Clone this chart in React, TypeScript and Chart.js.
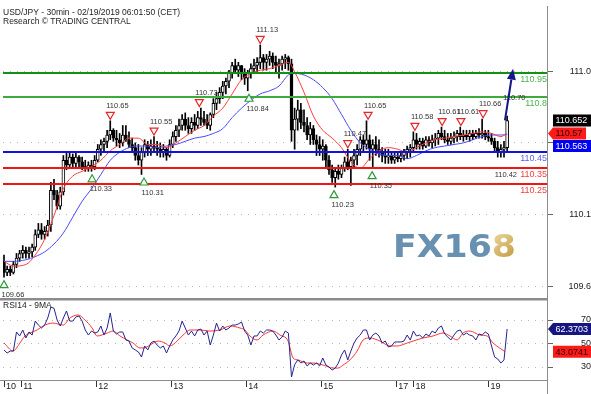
import React, { useEffect, useRef } from 'react';
import { Chart, registerables } from 'chart.js';

Chart.register(...registerables);

const SANS = '"Liberation Sans", Arial, sans-serif';

// ---------- price candles (1 bar per hour) ----------
const opens = [
  109.76, 109.69, 109.71, 109.69, 109.74, 109.78, 109.81, 109.83, 109.81, 109.82,
  109.85, 109.93, 109.96, 109.93, 109.95, 109.99, 110.21, 110.18, 110.11, 110.20,
  110.40, 110.37, 110.42, 110.38, 110.42, 110.39, 110.36, 110.35, 110.37, 110.36,
  110.40, 110.47, 110.50, 110.52, 110.56, 110.59, 110.54, 110.53, 110.51, 110.56,
  110.53, 110.50, 110.48, 110.43, 110.40, 110.45, 110.50, 110.47, 110.49, 110.48,
  110.47, 110.45, 110.47, 110.43, 110.50, 110.55, 110.59, 110.62, 110.66, 110.62,
  110.60, 110.64, 110.62, 110.67, 110.66, 110.64, 110.62, 110.69, 110.76, 110.79,
  110.83, 110.87, 110.90, 110.95, 111.00, 110.97, 111.00, 110.95, 110.92, 110.95,
  110.98, 111.00, 111.02, 111.05, 111.02, 111.04, 111.06, 111.02, 111.00, 111.01,
  111.04, 111.05, 111.01, 110.59, 110.66, 110.72, 110.64, 110.62, 110.56, 110.60,
  110.53, 110.50, 110.47, 110.49, 110.40, 110.34, 110.29, 110.33, 110.31, 110.35,
  110.39, 110.36, 110.40, 110.43, 110.47, 110.53, 110.50, 110.53, 110.47, 110.50,
  110.47, 110.45, 110.43, 110.42, 110.43, 110.40, 110.42, 110.41, 110.43, 110.45,
  110.47, 110.48, 110.53, 110.50, 110.52, 110.49, 110.53, 110.51, 110.53, 110.54,
  110.57, 110.55, 110.53, 110.52, 110.54, 110.55, 110.57, 110.55, 110.56, 110.55,
  110.57, 110.55, 110.57, 110.56, 110.57, 110.55, 110.54, 110.52, 110.48, 110.45,
  110.47, 110.48,
];
const highs = [
  109.80, 109.73, 109.73, 109.76, 109.81, 109.83, 109.86, 109.85, 109.85, 109.87,
  109.96, 110.00, 110.00, 109.98, 110.02, 110.26, 110.28, 110.21, 110.23, 110.43,
  110.45, 110.45, 110.44, 110.45, 110.43, 110.42, 110.40, 110.39, 110.40, 110.43,
  110.50, 110.53, 110.54, 110.59, 110.65, 110.60, 110.59, 110.57, 110.62, 110.62,
  110.58, 110.54, 110.51, 110.50, 110.48, 110.53, 110.52, 110.53, 110.55, 110.52,
  110.51, 110.50, 110.48, 110.53, 110.58, 110.62, 110.66, 110.69, 110.70, 110.67,
  110.67, 110.69, 110.71, 110.73, 110.71, 110.69, 110.70, 110.79, 110.83, 110.86,
  110.90, 110.92, 110.97, 111.02, 111.04, 111.02, 111.00, 110.98, 110.97, 111.01,
  111.04, 111.05, 111.13, 111.07, 111.07, 111.09, 111.08, 111.06, 111.04, 111.06,
  111.07, 111.06, 111.04, 110.73, 110.78, 110.76, 110.72, 110.67, 110.64, 110.62,
  110.56, 110.55, 110.53, 110.50, 110.43, 110.37, 110.35, 110.37, 110.37, 110.42,
  110.47, 110.42, 110.47, 110.50, 110.55, 110.56, 110.65, 110.56, 110.53, 110.55,
  110.53, 110.48, 110.47, 110.47, 110.45, 110.45, 110.45, 110.45, 110.47, 110.49,
  110.50, 110.58, 110.57, 110.54, 110.54, 110.55, 110.55, 110.56, 110.57, 110.59,
  110.61, 110.59, 110.57, 110.57, 110.58, 110.59, 110.61, 110.59, 110.59, 110.59,
  110.59, 110.59, 110.60, 110.66, 110.59, 110.59, 110.57, 110.54, 110.52, 110.50,
  110.52, 110.68,
];
const lows = [
  109.66, 109.67, 109.67, 109.68, 109.72, 109.76, 109.78, 109.78, 109.78, 109.79,
  109.83, 109.91, 109.90, 109.90, 109.92, 109.95, 110.15, 110.09, 110.09, 110.18,
  110.34, 110.35, 110.35, 110.36, 110.35, 110.34, 110.33, 110.33, 110.33, 110.34,
  110.39, 110.43, 110.45, 110.48, 110.53, 110.52, 110.49, 110.48, 110.49, 110.52,
  110.48, 110.45, 110.40, 110.37, 110.31, 110.42, 110.43, 110.43, 110.45, 110.43,
  110.42, 110.42, 110.40, 110.42, 110.48, 110.52, 110.55, 110.59, 110.59, 110.57,
  110.57, 110.59, 110.60, 110.62, 110.62, 110.60, 110.59, 110.67, 110.72, 110.76,
  110.79, 110.82, 110.86, 110.92, 110.95, 110.93, 110.91, 110.88, 110.84, 110.92,
  110.95, 110.96, 110.98, 110.97, 110.97, 111.00, 110.98, 110.96, 110.92, 110.97,
  110.98, 110.97, 110.52, 110.47, 110.59, 110.60, 110.58, 110.53, 110.50, 110.50,
  110.43, 110.43, 110.40, 110.35, 110.31, 110.26, 110.23, 110.28, 110.29, 110.33,
  110.34, 110.24, 110.35, 110.37, 110.43, 110.45, 110.47, 110.40, 110.35, 110.43,
  110.42, 110.39, 110.38, 110.38, 110.38, 110.38, 110.39, 110.39, 110.40, 110.41,
  110.42, 110.45, 110.47, 110.47, 110.47, 110.48, 110.49, 110.48, 110.49, 110.50,
  110.53, 110.51, 110.50, 110.50, 110.51, 110.52, 110.53, 110.52, 110.53, 110.52,
  110.53, 110.54, 110.54, 110.54, 110.53, 110.52, 110.50, 110.45, 110.42, 110.42,
  110.42, 110.45,
];
const closes = [
  109.69, 109.71, 109.69, 109.74, 109.78, 109.81, 109.83, 109.81, 109.82, 109.85,
  109.93, 109.96, 109.93, 109.95, 109.99, 110.21, 110.18, 110.11, 110.20, 110.40,
  110.37, 110.42, 110.38, 110.42, 110.39, 110.36, 110.35, 110.37, 110.36, 110.40,
  110.47, 110.50, 110.52, 110.56, 110.59, 110.54, 110.53, 110.51, 110.56, 110.53,
  110.50, 110.48, 110.43, 110.40, 110.45, 110.50, 110.47, 110.49, 110.48, 110.47,
  110.45, 110.47, 110.43, 110.50, 110.55, 110.59, 110.62, 110.66, 110.62, 110.60,
  110.64, 110.62, 110.67, 110.66, 110.64, 110.62, 110.69, 110.76, 110.79, 110.83,
  110.87, 110.90, 110.95, 111.00, 110.97, 111.00, 110.95, 110.92, 110.95, 110.98,
  111.00, 111.02, 111.05, 111.02, 111.04, 111.06, 111.02, 111.00, 111.01, 111.04,
  111.05, 111.01, 110.59, 110.66, 110.72, 110.64, 110.62, 110.56, 110.60, 110.53,
  110.50, 110.47, 110.49, 110.40, 110.34, 110.29, 110.33, 110.31, 110.35, 110.39,
  110.36, 110.40, 110.43, 110.47, 110.53, 110.50, 110.53, 110.47, 110.50, 110.47,
  110.45, 110.43, 110.42, 110.43, 110.40, 110.42, 110.41, 110.43, 110.45, 110.47,
  110.48, 110.53, 110.50, 110.52, 110.49, 110.53, 110.51, 110.53, 110.54, 110.57,
  110.55, 110.53, 110.52, 110.54, 110.55, 110.57, 110.55, 110.56, 110.55, 110.57,
  110.55, 110.57, 110.56, 110.57, 110.55, 110.54, 110.52, 110.48, 110.45, 110.47,
  110.48, 110.652,
];

// ---------- moving averages on price ----------
const maHours = [0, 3, 7, 10, 13, 16, 19, 22, 25, 28, 31, 34, 37, 40, 43, 46, 49, 52, 55, 58, 61, 64, 67, 70, 73, 76, 79, 82, 85, 88, 91, 93, 96, 99, 102, 105, 108, 111, 114, 117, 120, 123, 126, 129, 132, 135, 138, 141, 144, 147, 150, 153, 156, 159, 161];
const redMa = [109.76, 109.73, 109.74, 109.80, 109.90, 110.05, 110.22, 110.30, 110.33, 110.36, 110.40, 110.46, 110.50, 110.54, 110.54, 110.50, 110.50, 110.48, 110.51, 110.55, 110.59, 110.62, 110.68, 110.73, 110.82, 110.91, 110.95, 110.97, 110.98, 111.00, 111.02, 110.96, 110.83, 110.68, 110.59, 110.54, 110.48, 110.39, 110.35, 110.41, 110.46, 110.48, 110.47, 110.45, 110.48, 110.51, 110.53, 110.54, 110.55, 110.56, 110.57, 110.58, 110.57, 110.55, 110.57];
const blueMa = [109.76, 109.76, 109.77, 109.79, 109.82, 109.87, 109.94, 110.04, 110.14, 110.22, 110.31, 110.40, 110.45, 110.48, 110.49, 110.49, 110.48, 110.49, 110.50, 110.52, 110.54, 110.55, 110.57, 110.60, 110.67, 110.73, 110.78, 110.82, 110.84, 110.87, 110.94, 110.95, 110.94, 110.91, 110.86, 110.79, 110.69, 110.59, 110.51, 110.47, 110.44, 110.43, 110.43, 110.41, 110.43, 110.46, 110.48, 110.49, 110.50, 110.51, 110.53, 110.55, 110.56, 110.56, 110.563];

// ---------- support / resistance levels ----------
const levelPrices = [110.95, 110.8, 110.45, 110.35, 110.25];
const levelLineColors = ['#129212', '#3bab3b', '#1212e0', '#f01414', '#f01414'];
const levelTextColors = ['#4db34d', '#4db34d', '#5c5cf0', '#f04040', '#f04040'];

// ---------- pivot highs / lows ----------
const pivotHours = [0, 28.2, 34, 44.8, 48, 62.5, 78.4, 82, 105.6, 110, 116.5, 117.8, 131.5, 140.2, 146.2, 153.3, 157.8, 161];
const pivotPrices = [109.66, 110.33, 110.65, 110.31, 110.55, 110.73, 110.84, 111.13, 110.23, 110.47, 110.65, 110.35, 110.58, 110.61, 110.61, 110.66, 110.42, 110.70];
const pivotKinds = ['L', 'L', 'H', 'L', 'H', 'H', 'L', 'H', 'L', 'H', 'H', 'L', 'H', 'H', 'H', 'H', 'L', 'H'];
const pivotMarked = [1, 1, 1, 1, 1, 1, 1, 1, 1, 1, 1, 1, 1, 1, 1, 1, 0, 0];

// ---------- target arrow ----------
const arrowHours = [160.3, 162.9];
const arrowPrices = [110.652, 110.98];

// ---------- axes ----------
const priceTicks = [109.6, 110.055, 110.51, 110.965];
const priceTickLabels = ['109.6', '110.1', '', '111.0'];
const dayHours = [0, 5.5, 29.5, 53.5, 77.5, 101.5, 125.5, 131, 155];
const dayLabels = ['10', '11', '12', '13', '14', '15', '17', '18', '19'];

// ---------- RSI ----------
const rsiValues = [
  44.5, 41.9, 43.6, 43.6, 59.8, 56.4, 61.5, 54.7, 59.8, 57.2,
  69.1, 65.7, 63.2, 65.7, 71.7, 81.0, 80.0, 70.0, 64.9, 71.7,
  77.7, 69.1, 69.1, 72.6, 73.4, 69.1, 61.5, 57.2, 60.6, 58.9,
  59.8, 64.9, 57.2, 63.2, 76.0, 60.6, 58.1, 59.8, 59.8, 53.0,
  52.1, 46.2, 44.5, 42.8, 38.5, 47.9, 44.5, 50.4, 52.1, 48.7,
  46.2, 47.9, 41.9, 47.9, 53.0, 56.4, 60.6, 69.1, 63.2, 57.2,
  60.6, 56.4, 61.5, 62.3, 57.2, 60.6, 48.7, 57.2, 67.4, 60.6,
  64.9, 61.5, 63.2, 65.7, 65.7, 66.6, 68.3, 60.6, 57.2, 48.7,
  56.4, 56.4, 60.6, 58.9, 61.5, 61.5, 60.6, 57.2, 53.0, 55.5,
  60.6, 58.9, 21.5, 32.0, 36.0, 33.4, 35.1, 30.9, 33.4, 31.7,
  33.4, 30.9, 37.7, 31.7, 30.0, 27.4, 29.1, 33.4, 40.2, 44.5,
  36.0, 43.6, 50.4, 54.7, 57.2, 61.5, 61.5, 53.0, 57.2, 58.9,
  56.4, 50.4, 52.1, 47.0, 47.9, 51.3, 51.3, 51.3, 52.1, 57.2,
  53.0, 60.6, 56.4, 57.2, 54.7, 58.1, 56.4, 60.6, 58.9, 63.2,
  64.9, 58.1, 55.5, 53.0, 57.2, 60.6, 61.5, 57.2, 58.9, 57.2,
  56.4, 53.0, 58.1, 57.2, 59.8, 58.1, 47.9, 38.5, 36.8, 33.4,
  36.0, 62.3703,
];
const rsiMaHours = [0, 2.9, 5.1, 6.7, 8.3, 10.6, 12.5, 15.7, 18.9, 21.1, 23.7, 25.9, 28.2, 29.8, 33, 34.9, 37.1, 39.4, 41.3, 43.5, 44.8, 46.7, 49.3, 51.5, 53.1, 55.4, 57.3, 59.5, 62.7, 65.9, 69.1, 72.3, 75.5, 77.1, 78.7, 81, 82.9, 86.1, 88.3, 90.9, 92.5, 94.1, 97, 98.9, 102.1, 105.3, 106.9, 108.5, 110.7, 113, 114.9, 117.1, 120.3, 123.5, 125.8, 129, 130.9, 134.1, 137.3, 140.5, 142.7, 145, 146.9, 149.1, 152.3, 154.6, 156.5, 158.7, 160.3];
const rsiMaValues = [50.4, 43.6, 50.4, 56.4, 58.9, 61.5, 64.9, 67.4, 65.7, 71.7, 74.3, 70.0, 63.2, 56.4, 58.9, 60.6, 56.4, 53.0, 50.4, 46.2, 46.2, 48.7, 52.1, 50.4, 47.9, 52.1, 57.2, 61.5, 61.5, 60.6, 61.5, 64.9, 63.2, 61.5, 56.4, 53.0, 57.2, 60.6, 57.2, 52.1, 37.7, 36.0, 33.4, 33.4, 31.7, 29.1, 29.1, 31.7, 36.0, 43.6, 53.0, 54.7, 52.1, 47.9, 47.9, 50.4, 52.1, 54.7, 56.4, 58.9, 56.4, 53.0, 58.9, 60.6, 57.2, 56.4, 50.4, 46.0, 43.0741];
const rsiTicks = [30, 50, 70];

const X_MIN = -0.32;
const X_MAX = 173.76;

function drawBox(ctx: any, axisX: number, cy: number, text: string, fill: string, textColor: string, arrow: boolean, right: number) {
  const h = 12;
  const left = axisX + 6;
  ctx.save();
  ctx.fillStyle = fill;
  ctx.beginPath();
  if (arrow) {
    ctx.moveTo(axisX + 1, cy);
    ctx.lineTo(left, cy - h / 2);
    ctx.lineTo(right, cy - h / 2);
    ctx.lineTo(right, cy + h / 2);
    ctx.lineTo(left, cy + h / 2);
  } else {
    ctx.rect(left, cy - h / 2, right - left, h);
  }
  ctx.closePath();
  ctx.fill();
  ctx.font = `9px ${SANS}`;
  ctx.fillStyle = textColor;
  ctx.textAlign = 'left';
  ctx.textBaseline = 'middle';
  ctx.fillText(text, left + 2.5, cy + 0.5);
  ctx.restore();
}

const fitY = (s: any) => {
  s.width = 44;
  s.paddingTop = 0;
  s.paddingBottom = 0;
};

const mainPlugin = {
  id: 'mainDecor',
  afterDatasetsDraw(chart: any) {
    const { ctx, chartArea, scales } = chart;
    const { left, right } = chartArea;
    const xs = scales.x;
    const ys = scales.y;
    ctx.save();
    levelPrices.forEach((p, i) => {
      const py = Math.round(ys.getPixelForValue(p));
      ctx.strokeStyle = levelLineColors[i];
      ctx.lineWidth = 2;
      ctx.beginPath();
      ctx.moveTo(left, py);
      ctx.lineTo(right, py);
      ctx.stroke();
      ctx.font = `9px ${SANS}`;
      ctx.fillStyle = levelTextColors[i];
      ctx.textAlign = 'right';
      ctx.textBaseline = 'middle';
      ctx.fillText(String(p), right, py + 7);
    });
    pivotHours.forEach((h, i) => {
      const cx = xs.getPixelForValue(h);
      const py = ys.getPixelForValue(pivotPrices[i]);
      const hi = pivotKinds[i] === 'H';
      const cy = hi ? py - 5 : py + 7;
      if (pivotMarked[i]) {
        ctx.beginPath();
        if (hi) {
          ctx.moveTo(cx - 4, cy - 3.5);
          ctx.lineTo(cx + 4, cy - 3.5);
          ctx.lineTo(cx, cy + 3.5);
        } else {
          ctx.moveTo(cx, cy - 3.5);
          ctx.lineTo(cx + 4, cy + 3.5);
          ctx.lineTo(cx - 4, cy + 3.5);
        }
        ctx.closePath();
        ctx.fillStyle = '#ffffff';
        ctx.fill();
        ctx.strokeStyle = hi ? '#e8262a' : '#2e9a3a';
        ctx.lineWidth = 1.2;
        ctx.stroke();
      }
      ctx.font = `7.5px ${SANS}`;
      ctx.fillStyle = '#333';
      ctx.textAlign = 'left';
      ctx.textBaseline = 'middle';
      ctx.fillText(pivotPrices[i].toFixed(2), hi ? cx - 4 : cx - 2.5, hi ? cy - 10 : cy + 11);
    });
    const x1 = xs.getPixelForValue(arrowHours[0]);
    const y1 = ys.getPixelForValue(arrowPrices[0]);
    const x2 = xs.getPixelForValue(arrowHours[1]);
    const y2 = ys.getPixelForValue(arrowPrices[1]);
    const ang = Math.atan2(y2 - y1, x2 - x1);
    const hl = 11, hw = 4.5;
    const bx = x2 - hl * Math.cos(ang);
    const by = y2 - hl * Math.sin(ang);
    ctx.strokeStyle = '#16168a';
    ctx.lineWidth = 2;
    ctx.beginPath();
    ctx.moveTo(x1, y1);
    ctx.lineTo(bx, by);
    ctx.stroke();
    ctx.fillStyle = '#16168a';
    ctx.beginPath();
    ctx.moveTo(x2, y2);
    ctx.lineTo(bx + hw * Math.sin(ang), by - hw * Math.cos(ang));
    ctx.lineTo(bx - hw * Math.sin(ang), by + hw * Math.cos(ang));
    ctx.closePath();
    ctx.fill();
    ctx.restore();
  },
  afterDraw(chart: any) {
    const { ctx, chartArea, scales } = chart;
    const { right, bottom } = chartArea;
    const ys = scales.y;
    ctx.save();
    ctx.font = `8.5px ${SANS}`;
    ctx.fillStyle = '#1e1e1e';
    ctx.textAlign = 'left';
    ctx.textBaseline = 'middle';
    ctx.fillText('USD/JPY - 30min - 02/19/2019 06:01:50 (CET)', 3, 12.5);
    ctx.fillText('Research \u00A9 TRADING CENTRAL', 3, 22);
    ctx.save();
    ctx.font = 'bold 32px "DejaVu Sans", sans-serif';
    const w1 = ctx.measureText('FX16').width;
    const w2 = ctx.measureText('8').width;
    const sx = 123 / (w1 + w2);
    ctx.translate(393, 257);
    ctx.scale(sx, 1);
    ctx.textBaseline = 'alphabetic';
    ctx.fillStyle = '#6890b0';
    ctx.fillText('FX16', 0, 0);
    const g = ctx.createLinearGradient(w1, -24, w1 + w2, 0);
    g.addColorStop(0, '#ecd9a0');
    g.addColorStop(1, '#c39a3e');
    ctx.fillStyle = g;
    ctx.fillText('8', w1, 0);
    ctx.restore();
    ctx.fillStyle = '#8c8c8c';
    ctx.fillRect(right, 6, 1, chart.height - 6);
    ctx.fillRect(0, bottom, right, 1);
    const vals = [closes[closes.length - 1], redMa[redMa.length - 1], blueMa[blueMa.length - 1]];
    const fills = ['#000000', '#ff1a1a', '#0000f0'];
    const tcols = ['#ffffff', '#2a0000', '#ffffff'];
    const arrows = [false, true, false];
    const rights = [591, 586, 591];
    let prev = -1e9;
    vals.forEach((v, i) => {
      let cy = ys.getPixelForValue(v);
      if (cy < prev + 12.5) cy = prev + 12.5;
      prev = cy;
      drawBox(ctx, right, cy, String(v), fills[i], tcols[i], arrows[i], rights[i]);
    });
    ctx.restore();
  },
};

const rsiPlugin = {
  id: 'rsiDecor',
  afterDraw(chart: any) {
    const { ctx, chartArea, scales } = chart;
    const { right, bottom } = chartArea;
    const ys = scales.y;
    ctx.save();
    ctx.fillStyle = '#8c8c8c';
    ctx.fillRect(right, 0, 1, chart.height);
    ctx.fillRect(0, 0, right, 1.5);
    ctx.fillRect(0, bottom, right, 1);
    ctx.font = `8.5px ${SANS}`;
    ctx.fillStyle = '#1e1e1e';
    ctx.textAlign = 'left';
    ctx.textBaseline = 'middle';
    ctx.fillText('RSI14 - 9MA', 3, 7);
    const last = rsiValues[rsiValues.length - 1];
    const lastMa = rsiMaValues[rsiMaValues.length - 1];
    drawBox(ctx, right, ys.getPixelForValue(last), String(last), '#161682', '#ffffff', true, 591);
    drawBox(ctx, right, ys.getPixelForValue(lastMa), String(lastMa), '#ff1a1a', '#2a0000', false, 591);
    ctx.restore();
  },
};

export default function App() {
  const mainRef = useRef<HTMLCanvasElement>(null);
  const rsiRef = useRef<HTMLCanvasElement>(null);

  useEffect(() => {
    const bodyColors = opens.map((o, i) => (closes[i] >= o ? '#ffffff' : '#000000'));
    const main = new Chart(mainRef.current as HTMLCanvasElement, {
      type: 'bar',
      data: {
        datasets: [
          {
            type: 'line',
            label: 'MA fast',
            data: maHours.map((h, i) => ({ x: h, y: redMa[i] })),
            borderColor: '#ff3c3c',
            borderWidth: 1,
            pointRadius: 0,
            cubicInterpolationMode: 'monotone',
            order: 1,
          } as any,
          {
            type: 'line',
            label: 'MA slow',
            data: maHours.map((h, i) => ({ x: h, y: blueMa[i] })),
            borderColor: '#4848ff',
            borderWidth: 1,
            pointRadius: 0,
            cubicInterpolationMode: 'monotone',
            order: 2,
          } as any,
          {
            type: 'bar',
            label: 'body',
            data: opens.map((o, i) => ({ x: i, y: [o, closes[i]] })),
            backgroundColor: bodyColors,
            borderColor: '#000000',
            borderWidth: 1,
            borderSkipped: false,
            barThickness: 3,
            grouped: false,
            order: 3,
          } as any,
          {
            type: 'bar',
            label: 'wick',
            data: lows.map((l, i) => ({ x: i, y: [l, highs[i]] })),
            backgroundColor: '#000000',
            barThickness: 1,
            grouped: false,
            order: 4,
          } as any,
        ],
      },
      options: {
        animation: false,
        responsive: true,
        maintainAspectRatio: false,
        layout: { padding: { left: 3, top: 5, bottom: 1, right: 0 } },
        plugins: { legend: { display: false }, tooltip: { enabled: false } },
        scales: {
          x: { type: 'linear', min: X_MIN, max: X_MAX, display: false, offset: false },
          y: {
            position: 'right',
            min: 109.528,
            max: 111.383,
            afterFit: fitY,
            afterBuildTicks: (s: any) => { s.ticks = priceTicks.map((v) => ({ value: v })); },
            ticks: {
              callback: (_v: any, i: number) => priceTickLabels[i],
              font: { family: SANS, size: 9 },
              color: '#222',
              padding: 12,
              crossAlign: 'far',
            },
            grid: { color: '#b8b8b8', lineWidth: 1, tickLength: 6, tickColor: '#666' },
            border: { display: false, dash: [1, 6] },
          },
        },
      } as any,
      plugins: [mainPlugin],
    });

    const rsi = new Chart(rsiRef.current as HTMLCanvasElement, {
      type: 'line',
      data: {
        datasets: [
          {
            label: 'RSI14',
            data: rsiValues.map((v, i) => ({ x: i, y: v })),
            borderColor: '#24248e',
            borderWidth: 1,
            pointRadius: 0,
          },
          {
            label: '9MA',
            data: rsiMaHours.map((h, i) => ({ x: h, y: rsiMaValues[i] })),
            borderColor: '#ff3434',
            borderWidth: 1,
            pointRadius: 0,
            cubicInterpolationMode: 'monotone',
          },
        ],
      },
      options: {
        animation: false,
        responsive: true,
        maintainAspectRatio: false,
        layout: { padding: { left: 3, top: 1, bottom: 0, right: 0 } },
        plugins: { legend: { display: false }, tooltip: { enabled: false } },
        scales: {
          x: {
            type: 'linear',
            min: X_MIN,
            max: X_MAX,
            afterFit: (s: any) => { s.height = 14; s.paddingLeft = 0; s.paddingRight = 0; },
            afterBuildTicks: (s: any) => { s.ticks = dayHours.map((v) => ({ value: v })); },
            ticks: {
              callback: (_v: any, i: number) => dayLabels[i],
              align: 'start',
              labelOffset: 2,
              padding: -6,
              autoSkip: false,
              maxRotation: 0,
              minRotation: 0,
              font: { family: SANS, size: 9 },
              color: '#222',
            },
            grid: { drawOnChartArea: false, tickLength: 7, tickColor: '#333', lineWidth: 1 },
            border: { display: false },
          },
          y: {
            position: 'right',
            min: 18.94,
            max: 87.02,
            afterFit: fitY,
            afterBuildTicks: (s: any) => { s.ticks = rsiTicks.map((v) => ({ value: v })); },
            ticks: {
              callback: (v: any) => String(v),
              font: { family: SANS, size: 9 },
              color: '#222',
              padding: 24,
              crossAlign: 'far',
            },
            grid: { color: '#b8b8b8', lineWidth: 1, tickLength: 6, tickColor: '#666' },
            border: { display: false, dash: [1, 6] },
          },
        },
      } as any,
      plugins: [rsiPlugin],
    });

    return () => {
      main.destroy();
      rsi.destroy();
    };
  }, []);

  return (
    <div style={{ position: 'absolute', left: 0, top: 0, width: 591, height: 394, background: '#ffffff', overflow: 'hidden' }}>
      <div style={{ position: 'absolute', left: 0, top: 0, width: 591, height: 299 }}>
        <canvas ref={mainRef} />
      </div>
      <div style={{ position: 'absolute', left: 0, top: 299, width: 591, height: 95 }}>
        <canvas ref={rsiRef} />
      </div>
    </div>
  );
}
